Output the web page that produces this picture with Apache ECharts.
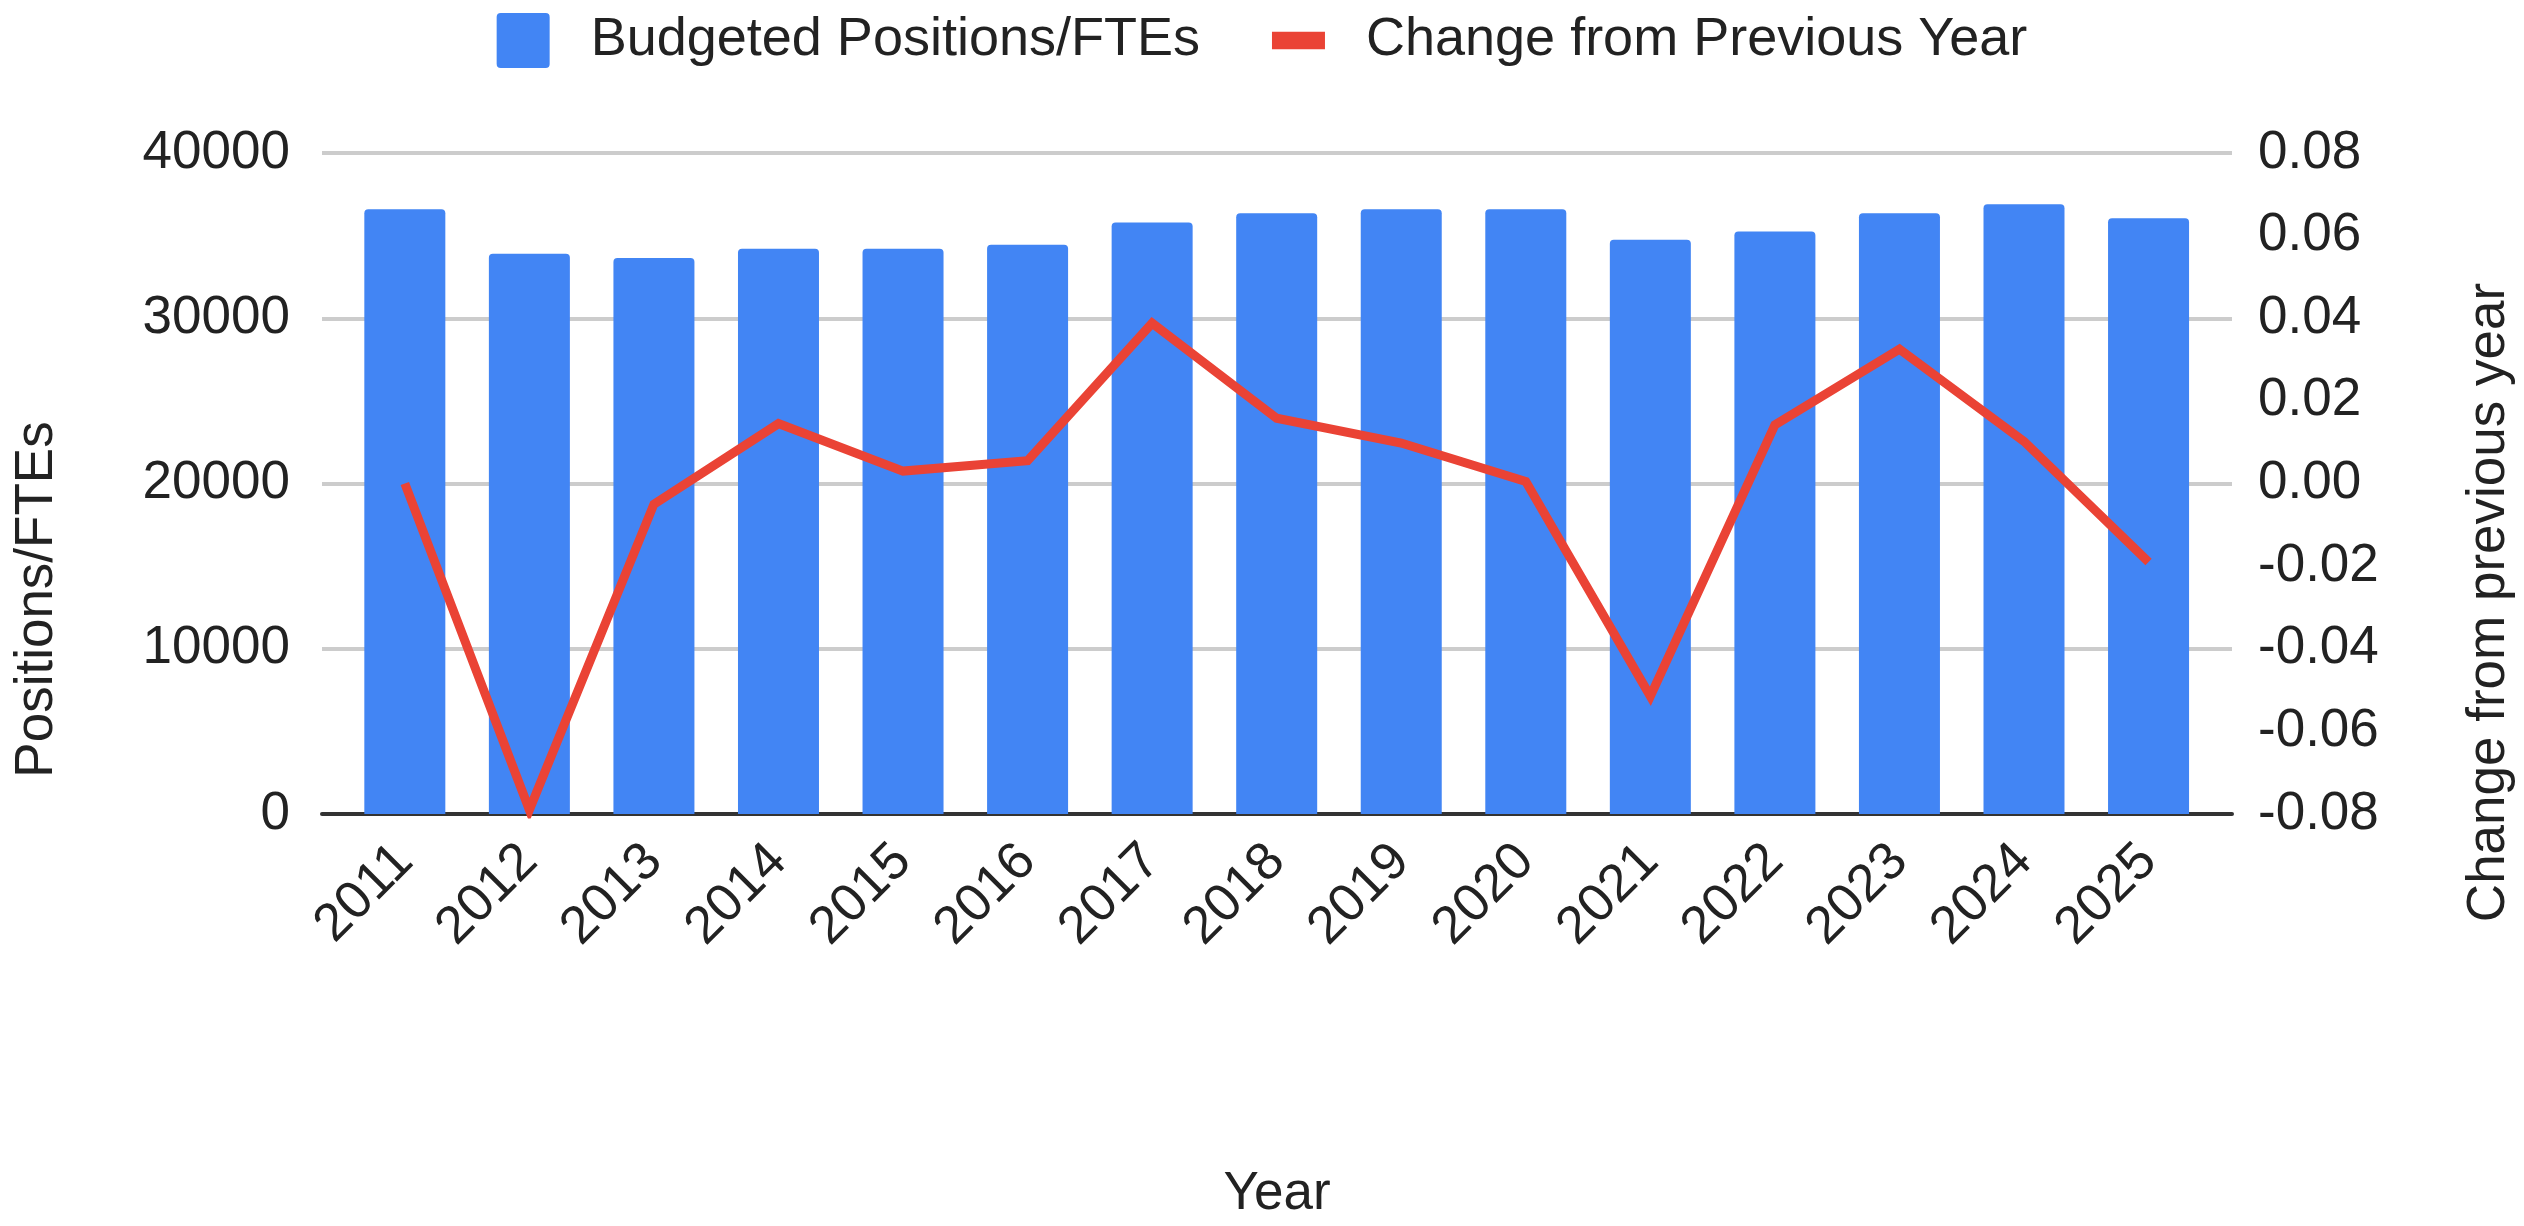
<!DOCTYPE html>
<html>
<head>
<meta charset="utf-8">
<script src="https://cdn.jsdelivr.net/npm/echarts@6/dist/echarts.min.js"></script>
<style>
  html, body { margin: 0; padding: 0; background: #fff; }
  #chart { width: 2524px; height: 1226px; }
</style>
</head>
<body>
<div id="chart"></div>
<script>
// data
const years = ['2011', '2012', '2013', '2014', '2015', '2016', '2017', '2018',
  '2019', '2020', '2021', '2022', '2023', '2024', '2025'];
const positions = [36600, 33900, 33650, 34200, 34200, 34450, 35800, 36350,
  36600, 36600, 34750, 35250, 36350, 36900, 36050];
const change = [0, -0.079, -0.005, 0.0145, 0.003, 0.0055, 0.0388, 0.0158,
  0.0098, 0.0005, -0.0515, 0.0142, 0.0325, 0.0102, -0.019];
const leftTicks = [0, 10000, 20000, 30000, 40000];
const rightTicks = [-0.08, -0.06, -0.04, -0.02, 0, 0.02, 0.04, 0.06, 0.08];

const FONT = "'Liberation Sans', Arial, sans-serif";
const TEXT = '#222';

const chart = echarts.init(document.getElementById('chart'));

const option = {
  animation: false,
  backgroundColor: '#fff',
  textStyle: { fontFamily: FONT },
  legend: {
    top: 8,
    left: 'center',
    itemWidth: 53,
    itemHeight: 55,
    itemGap: 72,
    textStyle: { fontSize: 54, color: TEXT, fontFamily: FONT, padding: [0, 0, 0, 36] },
    data: [
      { name: 'Budgeted Positions/FTEs', icon: 'path://M4,0H49Q53,0 53,4V51Q53,55 49,55H4Q0,55 0,51V4Q0,0 4,0Z' },
      { name: 'Change from Previous Year', icon: 'path://M0,0H55V18H0Z' }
    ]
  },
  grid: { left: 322, right: 290, top: 153, bottom: 408, containLabel: false },
  xAxis: {
    type: 'value',
    min: -0.665,
    max: 14.67,
    name: 'Year',
    nameLocation: 'middle',
    nameGap: 354,
    nameTextStyle: { fontSize: 53, color: TEXT, fontFamily: FONT },
    splitLine: { show: false },
    axisTick: { show: false },
    axisLine: { show: true, onZero: false, lineStyle: { color: '#333', width: 4 } },
    axisLabel: {
      customValues: years.map((_, i) => i),
      formatter: v => years[Math.round(v)],
      rotate: 45,
      margin: 39,
      padding: [42, 0, 0, 0],
      fontSize: 53,
      color: TEXT,
      fontFamily: FONT
    }
  },
  yAxis: [
    {
      type: 'value',
      min: leftTicks[0],
      max: leftTicks[leftTicks.length - 1],
      interval: 10000,
      name: 'Positions/FTEs',
      nameLocation: 'middle',
      nameRotate: 90,
      nameGap: 258,
      nameTextStyle: { fontSize: 53, color: TEXT, fontFamily: FONT, padding: [0, 232, 0, 0] },
      axisLine: { show: false },
      axisTick: { show: false },
      axisLabel: {
        fontSize: 53, color: TEXT, fontFamily: FONT, margin: 32,
        formatter: v => String(v)
      },
      splitLine: { show: true, lineStyle: { color: '#ccc', width: 4 } }
    },
    {
      type: 'value',
      min: rightTicks[0],
      max: rightTicks[rightTicks.length - 1],
      interval: 0.02,
      name: 'Change from previous year',
      nameLocation: 'middle',
      nameRotate: 90,
      nameGap: 231,
      nameTextStyle: { fontSize: 53, color: TEXT, fontFamily: FONT, padding: [0, 238, 0, 0] },
      axisLine: { show: false },
      axisTick: { show: false },
      axisLabel: {
        fontSize: 53, color: TEXT, fontFamily: FONT, margin: 26,
        formatter: v => v.toFixed(2)
      },
      splitLine: { show: false }
    }
  ],
  series: [
    {
      name: 'Budgeted Positions/FTEs',
      type: 'bar',
      barWidth: 81,
      itemStyle: { color: '#4285F4', borderRadius: [4, 4, 0, 0] },
      data: positions.map((v, i) => [i, v])
    },
    {
      name: 'Change from Previous Year',
      type: 'line',
      yAxisIndex: 1,
      symbol: 'none',
      itemStyle: { color: '#EA4335' },
      lineStyle: { color: '#EA4335', width: 9, join: 'miter', miterLimit: 10 },
      data: change.map((v, i) => [i, v])
    }
  ]
};

chart.setOption(option);
</script>
</body>
</html>
